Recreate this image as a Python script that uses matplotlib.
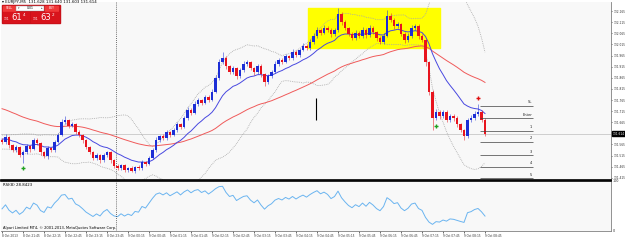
import numpy as np
import pandas as pd
import matplotlib
matplotlib.use('Agg')
from matplotlib import pyplot as plt
from matplotlib.patches import Rectangle

# texts
symbol_title = '\u25be EURJPY,M5  131.628 131.640 131.603 131.614'
rsi_title = 'RSI(8) 28.8423'
copyright_text = 'Alpari Limited MT4, \u00a9 2001-2013, MetaQuotes Software Corp.'

# closes before the visible window (only feed the indicators)
pre_close = [131.963, 131.981, 131.968, 131.990, 131.972, 131.954, 131.977, 131.959, 131.945, 131.968,
             131.981, 131.963, 131.950, 131.972, 131.959, 131.900, 131.819, 131.729, 131.657, 131.612,
             131.585, 131.599, 131.572, 131.558, 131.581, 131.594, 131.567, 131.549, 131.572, 131.590,
             131.603, 131.581, 131.563, 131.545, 131.567, 131.585, 131.594, 131.576, 131.558, 131.585]

# visible M5 bars
close = [131.576, 131.599, 131.563, 131.540, 131.554, 131.518, 131.531, 131.558, 131.545, 131.585,
         131.572, 131.531, 131.513, 131.549, 131.540, 131.576, 131.608, 131.666, 131.675, 131.648,
         131.657, 131.621, 131.608, 131.585, 131.554, 131.531, 131.504, 131.518, 131.495, 131.518,
         131.531, 131.495, 131.468, 131.459, 131.473, 131.450, 131.459, 131.446, 131.464, 131.459,
         131.486, 131.477, 131.504, 131.540, 131.585, 131.603, 131.594, 131.621, 131.608, 131.630,
         131.657, 131.644, 131.684, 131.720, 131.707, 131.747, 131.765, 131.752, 131.779, 131.765,
         131.801, 131.864, 131.936, 131.954, 131.918, 131.891, 131.909, 131.873, 131.900, 131.927,
         131.936, 131.909, 131.891, 131.918, 131.882, 131.846, 131.873, 131.891, 131.927, 131.945,
         131.936, 131.963, 131.954, 131.981, 131.968, 131.990, 132.008, 131.999, 132.026, 132.053,
         132.080, 132.067, 132.089, 132.080, 132.062, 132.080, 132.152, 132.116, 132.089, 132.062,
         132.044, 132.067, 132.053, 132.080, 132.058, 132.089, 132.071, 132.044, 132.026, 132.053,
         132.143, 132.125, 132.098, 132.107, 132.062, 132.035, 132.053, 132.089, 132.098, 132.053,
         132.035, 131.936, 131.801, 131.684, 131.711, 131.693, 131.711, 131.675, 131.693, 131.684,
         131.657, 131.630, 131.603, 131.675, 131.684, 131.702, 131.711, 131.675, 131.614]

# wick lengths in points (0.001)
hi_wick = [8, 12, 6, 5, 9, 4, 7, 10, 6, 11,
           7, 5, 4, 9, 6, 8, 10, 12, 18, 6,
           9, 5, 7, 4, 6, 5, 3, 8, 5, 9,
           6, 4, 5, 7, 3, 6, 4, 8, 5, 7,
           9, 5, 8, 10, 12, 6, 9, 8, 5, 10,
           9, 6, 11, 13, 7, 12, 8, 6, 10, 7,
           12, 15, 14, 27, 8, 6, 10, 5, 9, 12,
           10, 6, 5, 11, 7, 4, 9, 8, 12, 10,
           7, 11, 6, 12, 8, 10, 13, 7, 12, 14,
           15, 8, 12, 9, 7, 11, 27, 10, 8, 6,
           7, 12, 9, 13, 8, 14, 10, 6, 7, 12,
           27, 12, 9, 11, 6, 8, 12, 14, 10, 7,
           9, 6, 5, 8, 12, 9, 11, 7, 10, 9,
           8, 6, 5, 10, 12, 14, 36, 10, 8]
lo_wick = [10, 7, 12, 9, 8, 11, 36, 9, 12, 7,
           10, 13, 8, 12, 9, 8, 6, 5, 7, 11,
           6, 9, 8, 12, 10, 8, 11, 7, 14, 9,
           10, 12, 9, 8, 11, 7, 10, 6, 9, 8,
           7, 9, 6, 5, 8, 10, 7, 9, 11, 6,
           8, 10, 5, 7, 9, 6, 8, 11, 7, 9,
           6, 5, 7, 9, 12, 8, 10, 13, 9, 7,
           8, 11, 14, 9, 12, 18, 10, 7, 6, 9,
           8, 6, 10, 7, 9, 8, 6, 11, 7, 9,
           8, 10, 6, 9, 13, 8, 7, 12, 10, 9,
           11, 8, 10, 7, 12, 9, 10, 13, 11, 8,
           6, 10, 12, 9, 11, 13, 8, 7, 10, 12,
           9, 18, 14, 54, 10, 12, 9, 11, 8, 13,
           12, 10, 18, 9, 8, 10, 7, 11, 12]

time_labels = ['8 Oct 2013', '8 Oct 21:45', '8 Oct 22:15', '8 Oct 22:45', '8 Oct 23:15', '8 Oct 23:45',
               '9 Oct 00:15', '9 Oct 00:45', '9 Oct 01:15', '9 Oct 01:45', '9 Oct 02:15', '9 Oct 02:45',
               '9 Oct 03:15', '9 Oct 03:45', '9 Oct 04:15', '9 Oct 04:45', '9 Oct 05:15', '9 Oct 05:45',
               '9 Oct 06:15', '9 Oct 06:45', '9 Oct 07:15', '9 Oct 07:45', '9 Oct 08:15', '9 Oct 08:45']
label_every = 6
price_ticks = [132.165, 132.115, 132.065, 132.015, 131.965, 131.915, 131.865, 131.815,
               131.765, 131.715, 131.665, 131.565, 131.515, 131.465, 131.415]
current_price = 131.614
day_start_bar = 32.5

fib_levels = [131.739, 131.683, 131.627, 131.577, 131.518, 131.465, 131.413]
fib_names = ['SL', 'Enter', '1', '2', '3', '4', '5']
fib_bars = (136.6, 151.7)
buy_signals = [6, 124]
sell_signals = [136]
box_bars = (87.4, 125.1)
box_prices = (131.999, 132.179)
marker_bar = 89.7
marker_prices = (131.675, 131.774)

# indicators
n_pre = len(pre_close)
s = pd.Series(pre_close + close)
ma_fast = s.ewm(span=14, adjust=False).mean().values[n_pre:]
ma_slow = s.ewm(span=50, adjust=False).mean().values[n_pre:]
mid = s.rolling(20).mean()
sd = s.rolling(20).std(ddof=0)
bb_up = (mid + 2 * sd).values[n_pre:]
bb_dn = (mid - 2 * sd).values[n_pre:]
d = s.diff()
gain = d.clip(lower=0).ewm(alpha=1 / 8, adjust=False).mean()
loss = (-d.clip(upper=0)).ewm(alpha=1 / 8, adjust=False).mean()
rsi = (100 - 100 / (1 + gain / loss)).values[n_pre:]

x = np.arange(len(close))
c = np.array(close)
o = np.array([pre_close[-1]] + close[:-1])
hi = np.maximum(o, c) + np.array(hi_wick) / 1000
lo = np.minimum(o, c) - np.array(lo_wick) / 1000
cols = np.where(c >= o, '#1c2ed6', '#e8141e')

fig = plt.figure(figsize=(6.25, 2.4), dpi=100)
fig.patch.set_facecolor('white')
bg = '#f8f8f8'
ax = fig.add_axes([1 / 625, 60 / 240, 610 / 625, 178 / 240], facecolor=bg)
ax2 = fig.add_axes([1 / 625, 9 / 240, 610 / 625, 50 / 240], facecolor=bg, sharex=ax)

# main panel
ax.add_patch(Rectangle((box_bars[0], box_prices[0]), box_bars[1] - box_bars[0],
                       box_prices[1] - box_prices[0], color='#ffff00', zorder=0))
ax.axhline(current_price, color='#c8c8c8', lw=0.6, zorder=1)
ax.plot(x, bb_up, color='#a8a8a8', lw=0.6, ls=(0, (1, 1.2)), zorder=2)
ax.plot(x, bb_dn, color='#a8a8a8', lw=0.6, ls=(0, (1, 1.2)), zorder=2)
ax.plot(x, ma_slow, color='#f05a5a', lw=0.7, zorder=2)
ax.plot(x, ma_fast, color='#4848e0', lw=0.7, zorder=2)
ax.vlines(x, lo, hi, colors=cols, lw=0.6, alpha=0.6, zorder=3)
ax.bar(x, np.abs(c - o) + 0.002, bottom=np.minimum(o, c) - 0.001, width=0.65, color=cols, zorder=4)
ax.vlines(marker_bar, *marker_prices, color='black', lw=0.8, zorder=5)

for b in buy_signals:
    ax.plot(b, lo[b] - 0.025, marker='+', color='#20a020', ms=3, mew=1, zorder=6)
for b in sell_signals:
    ax.plot(b, hi[b] + 0.025, marker='+', color='#e01010', ms=3, mew=1, zorder=6)

for lvl, name in zip(fib_levels, fib_names):
    ax.hlines(lvl, fib_bars[0], fib_bars[1], color='#404040', lw=0.5, zorder=5)
    ax.text(fib_bars[1] - 0.3, lvl + 0.006, name, fontsize=2.6, ha='right', va='bottom', color='#202020')

ax.axvline(day_start_bar, color='#404040', lw=0.6, ls=(0, (1, 1.5)), zorder=1)
ax.set_xlim(-0.29, 174)
ax.set_ylim(131.405, 132.206)
ax.yaxis.tick_right()
ax.set_yticks(price_ticks)
ax.set_yticklabels(['%.3f' % p for p in price_ticks])
ax.tick_params(axis='y', labelsize=2.1, length=1, width=0.5, pad=0.6, colors='#303030')
ax.tick_params(axis='x', bottom=False, labelbottom=False)
for sp in ['left', 'top']:
    ax.spines[sp].set_visible(False)
ax.spines['right'].set_color('#808080')
ax.spines['right'].set_linewidth(0.6)
ax.spines['bottom'].set_color('black')
ax.spines['bottom'].set_linewidth(1.2)
ax.text(1.0025, current_price, '%.3f' % current_price, transform=ax.get_yaxis_transform(),
        fontsize=2.1, color='white', va='center', ha='left',
        bbox=dict(boxstyle='square,pad=0.12', fc='black', ec='black'))

# rsi panel
ax2.plot(x, rsi, color='#6ab4f0', lw=0.7)
ax2.axvline(day_start_bar, color='#404040', lw=0.6, ls=(0, (1, 1.5)))
ax2.set_ylim(0, 100)
ax2.yaxis.tick_right()
ax2.set_yticks([0, 100])
ax2.set_yticklabels(['0', '100'])
ax2.tick_params(axis='y', labelsize=2.4, length=0, pad=1.5, colors='#303030')
tick_bars = np.arange(len(time_labels)) * label_every
ax2.set_xticks(tick_bars)
ax2.set_xticklabels(time_labels, ha='left')
ax2.tick_params(axis='x', labelsize=2.1, length=1.2, width=0.5, pad=0.8, colors='#303030')
for sp in ['left']:
    ax2.spines[sp].set_visible(False)
ax2.spines['top'].set_color('black')
ax2.spines['top'].set_linewidth(1.2)
for sp in ['right', 'bottom']:
    ax2.spines[sp].set_color('#808080')
    ax2.spines[sp].set_linewidth(0.6)
ax2.text(0.004, 0.97, rsi_title, transform=ax2.transAxes, fontsize=2.8, va='top', ha='left')
ax2.text(0.004, 0.03, copyright_text, transform=ax2.transAxes, fontsize=2.6, va='bottom', ha='left')

# title + one click trading panel, in figure pixels
ov = fig.add_axes([0, 0, 1, 1], zorder=10)
ov.set_xlim(0, 625)
ov.set_ylim(240, 0)
ov.axis('off')
ov.patch.set_alpha(0)
ov.text(2, 2.5, symbol_title, fontsize=2.8, va='center', ha='left')
red = '#d8141c'
ov.add_patch(Rectangle((2, 5), 58, 17.5, color='#c81018'))
ov.add_patch(Rectangle((3, 5.8), 12, 5, color='#f03838'))
ov.add_patch(Rectangle((45, 5.8), 13, 5, color='#f03838'))
ov.add_patch(Rectangle((16, 5.8), 28, 5, fc='white', ec='#909090', lw=0.3))
ov.text(9, 8.3, 'SELL', fontsize=2.2, color='white', ha='center', va='center')
ov.text(51.5, 8.3, 'BUY', fontsize=2.2, color='white', ha='center', va='center')
ov.text(30, 8.3, '0.01', fontsize=2.2, color='black', ha='center', va='center')
ov.text(18.5, 8.3, '\u25be', fontsize=2.2, color='#505050', ha='center', va='center')
ov.text(41.5, 8.3, '\u25b4', fontsize=2.2, color='#505050', ha='center', va='center')
ov.add_patch(Rectangle((3, 12), 26, 10, color=red))
ov.add_patch(Rectangle((31, 12), 28, 10, color=red))
for x0, big, sup in [(4, '61', '4'), (33, '63', '2')]:
    ov.text(x0, 18.8, '131', fontsize=2.2, color='white', ha='left', va='center')
    ov.text(x0 + 7, 17.3, big, fontsize=6, color='white', ha='left', va='center')
    ov.text(x0 + 18.5, 14.8, sup, fontsize=3, color='white', ha='left', va='center')

plt.savefig('out.png', dpi=100)
